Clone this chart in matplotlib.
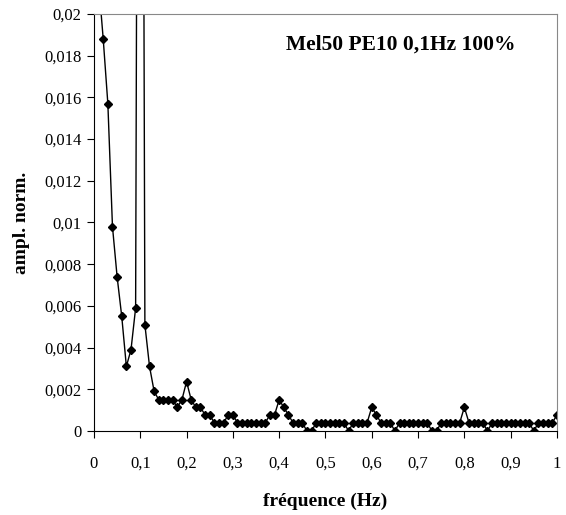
import matplotlib
matplotlib.use('Agg')
import matplotlib.pyplot as plt

# frequency bins (Hz) and normalised amplitude
freq = [0.01 * i for i in range(1, 101)]
ampl = [0.0215, 0.0188, 0.0157, 0.0098, 0.0074, 0.0055, 0.0031, 0.0039, 0.0059, 0.08,
        0.0051, 0.0031, 0.0019, 0.0015, 0.0015, 0.0015, 0.0015, 0.00114, 0.0015, 0.00237,
        0.0015, 0.00114, 0.00114, 0.00077, 0.00077, 0.0004, 0.0004, 0.0004, 0.00077, 0.00077,
        0.0004, 0.0004, 0.0004, 0.0004, 0.0004, 0.0004, 0.0004, 0.00077, 0.00077, 0.0015,
        0.00114, 0.00077, 0.0004, 0.0004, 0.0004, 0.0, 0.0, 0.0004, 0.0004, 0.0004,
        0.0004, 0.0004, 0.0004, 0.0004, 0.0, 0.0004, 0.0004, 0.0004, 0.0004, 0.00114,
        0.00077, 0.0004, 0.0004, 0.0004, 0.0, 0.0004, 0.0004, 0.0004, 0.0004, 0.0004,
        0.0004, 0.0004, 0.0, 0.0, 0.0004, 0.0004, 0.0004, 0.0004, 0.0004, 0.00114,
        0.0004, 0.0004, 0.0004, 0.0004, 0.0, 0.0004, 0.0004, 0.0004, 0.0004, 0.0004,
        0.0004, 0.0004, 0.0004, 0.0004, 0.0, 0.0004, 0.0004, 0.0004, 0.0004, 0.00077]

xticks = [0, 0.1, 0.2, 0.3, 0.4, 0.5, 0.6, 0.7, 0.8, 0.9, 1]
xlabels = ['0', '0,1', '0,2', '0,3', '0,4', '0,5', '0,6', '0,7', '0,8', '0,9', '1']
yticks = [0, 0.002, 0.004, 0.006, 0.008, 0.01, 0.012, 0.014, 0.016, 0.018, 0.02]
ylabels = ['0', '0,002', '0,004', '0,006', '0,008', '0,01', '0,012', '0,014', '0,016', '0,018', '0,02']

plt.rcParams['font.family'] = 'Liberation Serif'

fig = plt.figure(figsize=(5.66, 5.15), dpi=100)
ax = fig.add_axes([0.166, 0.163, 0.818, 0.810])

ax.plot(freq, ampl, 'k-', lw=1, marker='D', ms=4.5, mfc='k', mec='k')

ax.set_xlim(0, 1)
ax.set_ylim(0, 0.02)
ax.set_xticks(xticks)
ax.set_xticklabels(xlabels)
ax.set_yticks(yticks)
ax.set_yticklabels(ylabels)
ax.tick_params(axis='x', direction='out', length=5, pad=13, labelsize=12)
ax.tick_params(axis='y', direction='out', length=5, pad=4, labelsize=12)

for s in ['top', 'right']:
    ax.spines[s].set_color('#888888')
for s in ['left', 'bottom']:
    ax.spines[s].set_color('black')

ax.set_xlabel('fréquence (Hz)', fontsize=14, fontweight='bold', labelpad=15)
ax.set_ylabel('ampl. norm.', fontsize=14, fontweight='bold', labelpad=10)
ax.text(0.663, 0.926, 'Mel50 PE10 0,1Hz 100%', transform=ax.transAxes,
        ha='center', va='center', fontsize=15.5, fontweight='bold')

plt.savefig('out.png', dpi=100)
